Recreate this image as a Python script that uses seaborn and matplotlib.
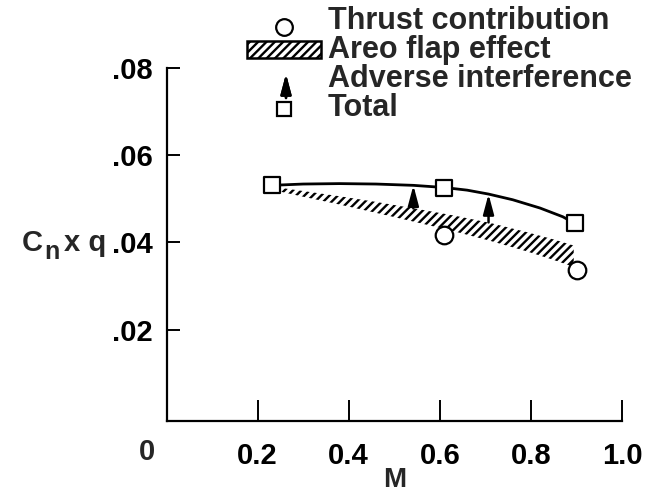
import matplotlib
matplotlib.use("Agg")
import matplotlib.pyplot as plt
from matplotlib.patches import Rectangle
from matplotlib.lines import Line2D
import pandas as pd
import seaborn as sns

# ---- data ----
total_mach = [0.231, 0.610, 0.896]
total_val = [0.0531, 0.0526, 0.0444]

thrust_mach = [0.610, 0.901]
thrust_val = [0.0418, 0.0338]

total_curve_mach = [0.231, 0.30, 0.38, 0.46, 0.542, 0.610, 0.66, 0.707,
                    0.76, 0.82, 0.87, 0.896]
total_curve_val = [0.0531, 0.0534, 0.0535, 0.0534, 0.0531, 0.0526, 0.0520,
                   0.0511, 0.0498, 0.0479, 0.0459, 0.0444]

flap_mach = [0.231, 0.30, 0.38, 0.46, 0.55, 0.63, 0.71, 0.79, 0.85, 0.894]
flap_upper = [0.0528, 0.0518, 0.0506, 0.0493, 0.0477, 0.0462, 0.0445,
              0.0424, 0.0407, 0.0393]
flap_lower = [0.0521, 0.0505, 0.0487, 0.0468, 0.0446, 0.0426, 0.0404,
              0.0380, 0.0360, 0.0344]

arrow_mach = [0.542, 0.707]
arrow_from = [0.0478, 0.0446]
arrow_to = [0.0531, 0.0511]

x_ticks = [0.2, 0.4, 0.6, 0.8, 1.0]
x_ticklabels = ["0.2", "0.4", "0.6", "0.8", "1.0"]
y_ticks = [0.02, 0.04, 0.06, 0.08]
y_ticklabels = [".02", ".04", ".06", ".08"]

legend_labels = ["Thrust contribution", "Areo flap effect",
                 "Adverse interference", "Total"]

# ---- style ----
sns.set_style("ticks")
plt.rcParams["font.family"] = ["Liberation Sans", "DejaVu Sans"]
plt.rcParams["font.weight"] = "bold"
plt.rcParams["hatch.linewidth"] = 1.7

W, H = 657, 493
fig = plt.figure(figsize=(W / 100, H / 100), dpi=100)
fig.patch.set_facecolor("white")

def fx(px):
    return px / W

def fy(py):
    return 1 - py / H

left_px, right_px, top_px, bottom_px = 166.5, 622, 68, 421
ax = fig.add_axes([fx(left_px), fy(bottom_px),
                   (right_px - left_px) / W, (bottom_px - top_px) / H])
ax.set_facecolor("white")

# hatched band (aero flap effect)
ax.fill_between(flap_mach, flap_lower, flap_upper, facecolor="white",
                edgecolor="black", hatch="////", linewidth=0, zorder=2)

# total curve
df_curve = pd.DataFrame({"M": total_curve_mach, "C": total_curve_val})
sns.lineplot(data=df_curve, x="M", y="C", ax=ax, color="black", lw=2.0,
             sort=False, estimator=None, zorder=3)

ARROW = "-|>,head_length=0.6,head_width=0.16"

# adverse interference arrows
for m, y0, y1 in zip(arrow_mach, arrow_from, arrow_to):
    ax.annotate("", xy=(m, y1), xytext=(m, y0),
                arrowprops=dict(arrowstyle=ARROW, color="black", lw=1.8,
                                mutation_scale=20, shrinkA=0, shrinkB=0),
                zorder=4)

# markers
df_tot = pd.DataFrame({"M": total_mach, "C": total_val})
df_thr = pd.DataFrame({"M": thrust_mach, "C": thrust_val})
sns.scatterplot(data=df_tot, x="M", y="C", ax=ax, marker="s", s=140,
                facecolor="white", edgecolor="black", linewidth=1.6, zorder=5)
sns.scatterplot(data=df_thr, x="M", y="C", ax=ax, marker="o", s=160,
                facecolor="white", edgecolor="black", linewidth=1.6, zorder=5)

# axes
ax.set_xlim(0, 1.0)
ax.set_ylim(-(bottom_px - 417) / 4350, 0.08)
ax.set_xticks(x_ticks)
ax.set_xticklabels(x_ticklabels)
ax.set_yticks(y_ticks)
ax.set_yticklabels(y_ticklabels)
for s in ["top", "right"]:
    ax.spines[s].set_visible(False)
for s in ["left", "bottom"]:
    ax.spines[s].set_linewidth(1.6)
    ax.spines[s].set_color("black")
ax.tick_params(axis="x", direction="in", length=15, width=1.4, pad=15,
               labelsize=21, colors="black")
ax.tick_params(axis="y", direction="in", length=9, width=1.4, pad=10,
               labelsize=21, colors="black")
for lab in ax.get_xticklabels() + ax.get_yticklabels():
    lab.set_fontweight("bold")

ax.set_xlabel("M", fontsize=20, fontweight="bold", labelpad=-2)
ax.set_ylabel("")

# y label "Cn x q" (subscript n)
fig.text(fx(22), fy(243), "C", fontsize=21, fontweight="bold",
         ha="left", va="center")
fig.text(fx(44), fy(252), "n", fontsize=18, fontweight="bold",
         ha="left", va="center")
fig.text(fx(64), fy(243), "x q", fontsize=21, fontweight="bold",
         ha="left", va="center")

# origin label
fig.text(fx(147), fy(452), "0", fontsize=21, fontweight="bold",
         ha="center", va="center")

# ---- legend (drawn manually to match layout) ----
rows = [21, 50, 79, 108]
text_x = 328
fig.add_artist(Line2D([fx(284)], [fy(rows[0] + 6)], marker="o", markersize=12,
                      markerfacecolor="white", markeredgecolor="black",
                      markeredgewidth=1.6, transform=fig.transFigure))
fig.add_artist(Rectangle((fx(247), fy(rows[1] + 8)), 74 / W, 17 / H,
                         facecolor="white", edgecolor="black", hatch="////",
                         lw=1.8, transform=fig.transFigure))
fig.add_artist(plt.annotate("", xy=(fx(286), fy(rows[2] - 5)),
                            xytext=(fx(286), fy(rows[2] + 19)),
                            xycoords="figure fraction",
                            arrowprops=dict(arrowstyle=ARROW, color="black",
                                            lw=1.8, mutation_scale=20,
                                            shrinkA=0, shrinkB=0)))
fig.add_artist(Line2D([fx(284)], [fy(rows[3] + 1)], marker="s", markersize=10,
                      markerfacecolor="white", markeredgecolor="black",
                      markeredgewidth=1.6, transform=fig.transFigure))
for r, lab in zip(rows, legend_labels):
    fig.text(fx(text_x), fy(r), lab, fontsize=22, fontweight="bold",
             ha="left", va="center")

fig.savefig("out.png", dpi=100, facecolor="white")
